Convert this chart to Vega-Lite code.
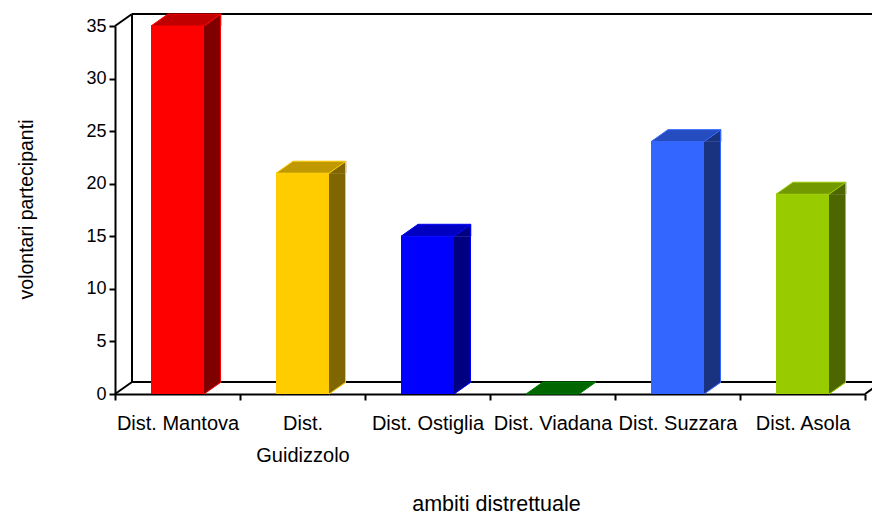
{
  "$schema": "https://vega.github.io/schema/vega-lite/v6.json",
  "width": 750,
  "height": 368,
  "autosize": {"type": "none"},
  "padding": {"left": 115, "top": 26, "right": 7, "bottom": 121},
  "background": "white",
  "config": {"view": {"stroke": null}, "font": "Liberation Sans"},
  "data": {
    "values": [
      {"ambito": "Dist. Mantova", "volontari": 35},
      {"ambito": "Dist. Guidizzolo", "volontari": 21},
      {"ambito": "Dist. Ostiglia", "volontari": 15},
      {"ambito": "Dist. Viadana", "volontari": 0},
      {"ambito": "Dist. Suzzara", "volontari": 24},
      {"ambito": "Dist. Asola", "volontari": 19}
    ]
  },
  "layer": [
    {
      "data": {"values": [{}]},
      "encoding": {
        "x": {"datum": 0, "type": "quantitative", "scale": {"domain": [0, 1], "nice": false, "zero": false}, "axis": null},
        "y": {"datum": 0, "type": "quantitative", "scale": {"domain": [0, 35], "nice": false}, "axis": null}
      },
      "layer": [
        {
          "mark": {"type": "rule", "color": "black", "strokeWidth": 2, "xOffset": 17, "x2Offset": 17, "yOffset": -12, "y2Offset": -12},
          "encoding": {"x": {"datum": 0, "type": "quantitative"}, "x2": {"datum": 1}, "y": {"datum": 35, "type": "quantitative"}, "y2": {"datum": 35}}
        },
        {
          "mark": {"type": "rule", "color": "black", "strokeWidth": 2, "xOffset": 17, "x2Offset": 17, "yOffset": -12, "y2Offset": -12},
          "encoding": {"x": {"datum": 0, "type": "quantitative"}, "x2": {"datum": 1}, "y": {"datum": 0, "type": "quantitative"}, "y2": {"datum": 0}}
        },
        {
          "mark": {"type": "rule", "color": "black", "strokeWidth": 2, "xOffset": 17, "x2Offset": 17, "yOffset": -12, "y2Offset": -12},
          "encoding": {"x": {"datum": 0, "type": "quantitative"}, "x2": {"datum": 0}, "y": {"datum": 0, "type": "quantitative"}, "y2": {"datum": 35}}
        },
        {
          "mark": {"type": "rule", "color": "black", "strokeWidth": 2, "x2Offset": 17, "y2Offset": -12},
          "encoding": {"x": {"datum": 0, "type": "quantitative"}, "x2": {"datum": 0}, "y": {"datum": 35, "type": "quantitative"}, "y2": {"datum": 35}}
        },
        {
          "mark": {"type": "rule", "color": "black", "strokeWidth": 2, "x2Offset": 17, "y2Offset": -12},
          "encoding": {"x": {"datum": 0, "type": "quantitative"}, "x2": {"datum": 0}, "y": {"datum": 0, "type": "quantitative"}, "y2": {"datum": 0}}
        },
        {
          "mark": {"type": "rule", "color": "black", "strokeWidth": 2, "x2Offset": 17, "y2Offset": -12},
          "encoding": {"x": {"datum": 1, "type": "quantitative"}, "x2": {"datum": 1}, "y": {"datum": 0, "type": "quantitative"}, "y2": {"datum": 0}}
        }
      ]
    },
    {
      "encoding": {
        "x": {
          "field": "ambito",
          "type": "nominal",
          "sort": null,
          "scale": {
            "domain": ["Dist. Mantova", "Dist. Guidizzolo", "Dist. Ostiglia", "Dist. Viadana", "Dist. Suzzara", "Dist. Asola"],
            "paddingInner": 0,
            "paddingOuter": 0
          },
          "axis": {
            "title": "ambiti distrettuale",
            "titleFontSize": 21.5,
            "titleFontWeight": "normal",
            "titleColor": "black",
            "titleBaseline": "alphabetic",
            "titleX": 381,
            "titleY": 116,
            "labelAngle": 0,
            "labelFontSize": 20,
            "labelColor": "black",
            "labelPadding": 13,
            "labelLineHeight": 32,
            "labelOverlap": false,
            "labelLimit": 0,
            "labelExpr": "datum.value == 'Dist. Guidizzolo' ? ['Dist.', 'Guidizzolo'] : datum.value",
            "tickBand": "extent",
            "tickSize": 6,
            "tickWidth": 2,
            "tickColor": "black",
            "domainColor": "black",
            "domainWidth": 2,
            "grid": false
          }
        },
        "y": {
          "field": "volontari",
          "type": "quantitative",
          "scale": {"domain": [0, 35], "nice": false},
          "axis": {
            "title": "volontari partecipanti",
            "titleFontSize": 19.5,
            "titleFontWeight": "normal",
            "titleColor": "black",
            "titleBaseline": "alphabetic",
            "titleX": -83,
            "titleY": 183,
            "titleAngle": 270,
            "values": [0, 5, 10, 15, 20, 25, 30, 35],
            "labelFontSize": 18,
            "labelColor": "black",
            "labelPadding": 3,
            "tickSize": 6,
            "tickWidth": 2,
            "tickColor": "black",
            "domainColor": "black",
            "domainWidth": 2,
            "grid": false
          }
        }
      },
      "layer": [
        {
          "transform": [{"filter": "datum.volontari > 0"}],
          "mark": {"type": "bar", "width": 17, "xOffset": 35, "y2Offset": -12},
          "encoding": {
            "y2": {"datum": 0},
            "fill": {"field": "ambito", "type": "nominal", "scale": {"domain": ["Dist. Mantova", "Dist. Guidizzolo", "Dist. Ostiglia", "Dist. Viadana", "Dist. Suzzara", "Dist. Asola"], "range": ["#800000", "#806600", "#000080", "#004000", "#1A3380", "#4D6600"]}, "legend": null}
          }
        },
        {
          "transform": [{"filter": "datum.volontari > 0"}],
          "mark": {"type": "point", "shape": "M 26.5 0 L 43.5 -12 L 43.5 0 Z", "size": 4, "filled": true, "opacity": 1, "strokeWidth": 0.5},
          "encoding": {
            "fill": {"field": "ambito", "type": "nominal", "scale": {"domain": ["Dist. Mantova", "Dist. Guidizzolo", "Dist. Ostiglia", "Dist. Viadana", "Dist. Suzzara", "Dist. Asola"], "range": ["#800000", "#806600", "#000080", "#004000", "#1A3380", "#4D6600"]}, "legend": null},
            "stroke": {"field": "ambito", "type": "nominal", "scale": {"domain": ["Dist. Mantova", "Dist. Guidizzolo", "Dist. Ostiglia", "Dist. Viadana", "Dist. Suzzara", "Dist. Asola"], "range": ["#800000", "#806600", "#000080", "#004000", "#1A3380", "#4D6600"]}, "legend": null}
          }
        },
        {
          "transform": [{"filter": "datum.volontari > 0"}],
          "mark": {"type": "point", "shape": "M 26.5 -12 L 26.5 0 L 43.5 -12 Z", "size": 4, "filled": true, "opacity": 1, "strokeWidth": 0.5},
          "encoding": {
            "y": {"datum": 0, "type": "quantitative"},
            "fill": {"field": "ambito", "type": "nominal", "scale": {"domain": ["Dist. Mantova", "Dist. Guidizzolo", "Dist. Ostiglia", "Dist. Viadana", "Dist. Suzzara", "Dist. Asola"], "range": ["#800000", "#806600", "#000080", "#004000", "#1A3380", "#4D6600"]}, "legend": null},
            "stroke": {"field": "ambito", "type": "nominal", "scale": {"domain": ["Dist. Mantova", "Dist. Guidizzolo", "Dist. Ostiglia", "Dist. Viadana", "Dist. Suzzara", "Dist. Asola"], "range": ["#800000", "#806600", "#000080", "#004000", "#1A3380", "#4D6600"]}, "legend": null}
          }
        },
        {
          "transform": [{"filter": "datum.volontari > 0"}],
          "mark": {"type": "rule", "strokeWidth": 1, "xOffset": 43, "yOffset": -12, "y2Offset": -12},
          "encoding": {
            "y2": {"datum": 0},
            "stroke": {"field": "ambito", "type": "nominal", "scale": {"domain": ["Dist. Mantova", "Dist. Guidizzolo", "Dist. Ostiglia", "Dist. Viadana", "Dist. Suzzara", "Dist. Asola"], "range": ["#FF0000", "#FFCC00", "#0000FF", "#008000", "#3366FF", "#99CC00"]}, "legend": null}
          }
        },
        {
          "transform": [{"filter": "datum.volontari > 0"}],
          "mark": {"type": "point", "shape": "M 26.5 0 L 43.5 -12", "size": 4, "filled": false, "opacity": 1, "strokeWidth": 1},
          "encoding": {
            "y": {"datum": 0, "type": "quantitative"},
            "stroke": {"field": "ambito", "type": "nominal", "scale": {"domain": ["Dist. Mantova", "Dist. Guidizzolo", "Dist. Ostiglia", "Dist. Viadana", "Dist. Suzzara", "Dist. Asola"], "range": ["#FF0000", "#FFCC00", "#0000FF", "#008000", "#3366FF", "#99CC00"]}, "legend": null}
          }
        },
        {
          "mark": {"type": "point", "shape": "M -26.5 0 L 26.5 0 L 43.5 -12 L -9.5 -12 Z", "size": 4, "filled": true, "opacity": 1, "strokeWidth": 1},
          "encoding": {
            "fill": {"field": "ambito", "type": "nominal", "scale": {"domain": ["Dist. Mantova", "Dist. Guidizzolo", "Dist. Ostiglia", "Dist. Viadana", "Dist. Suzzara", "Dist. Asola"], "range": ["#C00000", "#C09900", "#0000C0", "#006600", "#264DC0", "#739900"]}, "legend": null},
            "stroke": {"field": "ambito", "type": "nominal", "scale": {"domain": ["Dist. Mantova", "Dist. Guidizzolo", "Dist. Ostiglia", "Dist. Viadana", "Dist. Suzzara", "Dist. Asola"], "range": ["#FF0000", "#FFCC00", "#0000FF", "#008000", "#3366FF", "#99CC00"]}, "legend": null}
          }
        },
        {
          "transform": [{"filter": "datum.volontari > 0"}],
          "mark": {"type": "bar", "width": {"band": 0.424}},
          "encoding": {
            "y2": {"datum": 0},
            "fill": {"field": "ambito", "type": "nominal", "scale": {"domain": ["Dist. Mantova", "Dist. Guidizzolo", "Dist. Ostiglia", "Dist. Viadana", "Dist. Suzzara", "Dist. Asola"], "range": ["#FF0000", "#FFCC00", "#0000FF", "#008000", "#3366FF", "#99CC00"]}, "legend": null}
          }
        }
      ],
      "resolve": {"scale": {"fill": "independent", "stroke": "independent"}}
    }
  ],
  "resolve": {"scale": {"x": "independent", "y": "independent"}}
}
